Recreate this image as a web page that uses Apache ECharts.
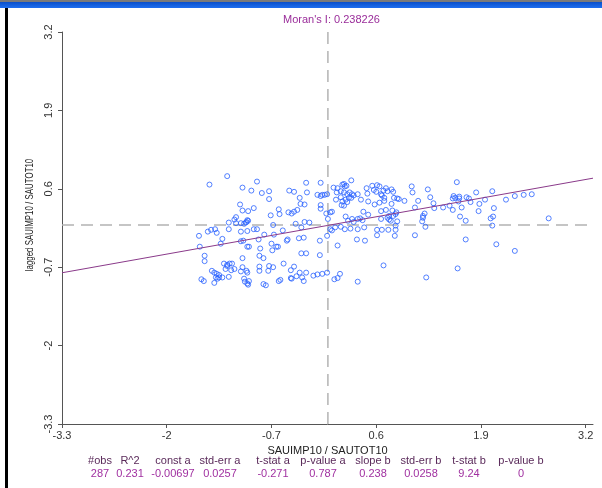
<!DOCTYPE html>
<html><head><meta charset="utf-8">
<script src="https://cdn.jsdelivr.net/npm/echarts@6/dist/echarts.min.js"></script>
<style>html,body{margin:0;padding:0;background:#fff}#c{width:602px;height:488px}</style>
</head><body><div id="c"></div>
<script>
// observations: [SAUIMP10 / SAUTOT10 (standardised), lagged value]
const observations = [
[-1.25,0.81],[-1.47,0.67],[-1.06,0.62],[-0.88,0.72],[-0.95,0.57],[-0.82,0.53],[-0.73,0.56],[-0.73,0.43],[-1.09,0.34],[-0.99,0.23],
[-1.06,0.24],[-0.92,0.28],[-1.14,0.13],[-1.16,0.09],[-1.00,0.08],[-1.23,0.04],[-1.14,0.03],[-1.08,0.03],[-1.04,0.02],[-1.02,0.04],
[-0.99,0.07],[-1.60,-0.18],[-1.49,-0.11],[-1.45,-0.08],[-1.40,-0.07],[-1.38,-0.13],[-1.23,-0.07],[-1.08,-0.11],[-1.00,-0.10],[-0.92,-0.07],
[-0.88,-0.07],[-0.68,0.00],[-0.71,0.16],[-0.61,0.26],[-0.60,0.18],[-0.56,-0.09],[-0.49,0.21],[-0.45,0.19],[-0.42,0.22],[-0.38,0.25],
[-0.50,-0.24],[-0.36,-0.22],[-0.33,-0.04],[-0.29,0.05],[-0.40,0.02],[-0.23,0.04],[-0.34,0.35],[-0.29,0.34],[-0.35,0.45],[-0.48,0.57],
[-0.42,0.55],[-0.26,0.54],[-0.27,0.70],[-0.09,0.70],[-0.13,0.50],[-0.09,0.48],[-0.04,0.50],[-0.01,0.51],[-0.09,0.33],[-0.09,0.27],
[-0.02,0.19],[0.03,0.21],[0.05,0.22],[0.00,0.10],[0.03,-0.07],[0.05,-0.09],[-0.01,-0.18],[-0.10,-0.26],[-0.10,-0.50],[0.07,0.62],
[0.12,0.61],[0.18,0.67],[0.20,0.68],[0.23,0.65],[0.29,0.74],[0.11,0.54],[0.16,0.56],[0.20,0.54],[0.24,0.51],[0.27,0.54],
[0.30,0.51],[0.32,0.49],[0.10,0.42],[0.16,0.46],[0.18,0.39],[0.22,0.42],[0.24,0.38],[0.29,0.45],[0.17,0.33],[0.20,0.32],
[0.41,0.42],[0.37,0.51],[0.48,0.61],[0.49,0.52],[0.55,0.65],[0.57,0.58],[0.64,0.64],[0.66,0.51],[0.67,0.49],[0.72,0.61],
[0.74,0.56],[0.79,0.59],[0.70,0.45],[0.82,0.45],[0.86,0.44],[0.50,0.39],[0.58,0.34],[0.64,0.37],[0.70,0.40],[0.79,0.35],
[0.44,0.22],[0.50,0.17],[0.72,0.25],[0.80,0.24],[0.84,0.18],[0.22,0.14],[0.25,0.07],[0.30,0.10],[0.37,0.10],[0.40,0.11],
[0.43,0.08],[0.32,0.05],[0.66,0.10],[0.76,0.09],[0.81,0.15],[0.78,0.07],[0.86,0.06],[0.16,-0.03],[0.21,-0.07],[0.28,-0.06],
[0.37,-0.07],[0.45,-0.04],[0.61,-0.08],[0.67,-0.08],[0.75,-0.08],[0.84,-0.08],[0.83,-0.18],[0.36,-0.24],[0.46,-0.26],[0.09,-0.04],
[-1.59,-0.36],[-1.53,-0.51],[-1.53,-0.60],[-1.31,-0.23],[-1.33,-0.31],[-1.08,-0.27],[-1.05,-0.26],[-1.00,-0.36],[-0.98,-0.36],[-0.84,-0.39],
[-0.70,-0.31],[-0.69,-0.42],[-0.64,-0.36],[-0.62,-0.36],[-0.51,-0.26],[-0.30,-0.21],[-0.33,-0.47],[-0.27,-0.47],[-0.85,-0.51],[-0.80,-0.55],
[-1.06,-0.55],[-1.29,-0.64],[-1.22,-0.64],[-1.19,-0.64],[-1.25,-0.66],[-1.16,-0.73],[-1.06,-0.70],[-1.01,-0.76],[-1.00,-0.79],[-0.85,-0.69],
[-0.85,-0.76],[-0.73,-0.68],[-0.74,-0.76],[-0.68,-0.70],[-0.55,-0.64],[-0.46,-0.75],[-0.42,-0.69],[-0.35,-0.79],[-0.27,-0.79],[-1.44,-0.76],
[-1.41,-0.79],[-1.38,-0.81],[-1.39,-0.87],[-1.35,-0.87],[-1.31,-0.87],[-1.23,-0.86],[-1.27,-0.73],[-1.57,-0.90],[-1.54,-0.93],[-1.41,-0.96],
[-1.03,-0.94],[-1.00,-0.97],[-0.98,-0.93],[-0.99,-0.99],[-0.80,-0.98],[-0.77,-1.00],[-0.61,-0.93],[-0.59,-0.91],[-0.46,-0.88],[-0.39,-0.85],
[-0.32,-0.87],[-0.30,-0.93],[-0.18,-0.84],[-0.13,-0.82],[-0.07,-0.81],[-0.01,-0.79],[0.08,-0.90],[0.12,-0.88],[0.15,-0.81],[0.37,-0.94],
[1.04,0.64],[1.05,0.54],[1.24,0.59],[1.27,0.46],[1.12,0.40],[0.95,0.40],[0.88,0.43],[1.31,0.36],[1.08,0.29],[1.32,0.28],
[1.43,0.29],[1.51,0.32],[1.55,0.25],[1.60,0.71],[1.56,0.48],[1.58,0.45],[1.63,0.44],[1.62,0.39],[1.72,0.46],[1.75,0.44],
[1.77,0.38],[1.84,0.54],[1.88,0.35],[1.87,0.23],[1.95,0.42],[2.04,0.56],[2.06,0.28],[2.21,0.42],[2.32,0.48],[2.43,0.50],
[2.53,0.51],[1.64,0.14],[1.71,0.07],[2.05,0.14],[2.02,0.11],[2.04,-0.01],[1.71,-0.24],[2.09,-0.32],[2.32,-0.43],[1.61,-0.72],
[1.22,-0.87],[2.74,0.11],[1.18,0.15],[1.18,0.12],[1.17,0.06],[1.20,0.19],[1.21,-0.03],[1.08,-0.17],[0.69,-0.67],[0.85,0.21],
[0.76,0.15],[0.74,0.12],[0.84,-0.01],[1.66,0.29],[0.66,0.23],[1.55,0.44],
[-0.86,-0.24],[-0.67,-0.16],[-0.79,-0.16],[0.12,-0.34],[0.61,-0.17],[0.61,0.66],[0.81,0.55],[0.60,0.55],[-1.08,-0.77],[-1.20,-0.75],
[-0.45,-0.89],[-1.37,-0.89],[0.21,0.64],[0.26,0.45],[0.69,0.57],[-1.04,-0.89],[-1.35,-0.83],[-1.25,-0.68],[-0.07,0.50],[1.63,0.47],
[-1.01,0.05]
];
const xTicks = [-3.3, -2, -0.7, 0.6, 1.9, 3.2];
const yTicks = [-3.3, -2, -0.7, 0.6, 1.9, 3.2];
const xRange = [-3.3, 3.29];
const yRange = [-3.3, 3.2];
const moransI = '0.238226';
const constA = -0.00697;
const slopeB = 0.238;
const xTitle = 'SAUIMP10 / SAUTOT10';
const yTitle = 'lagged SAUIMP10 / SAUTOT10';
const statNames = ['#obs','R^2','const a','std-err a','t-stat a','p-value a','slope b','std-err b','t-stat b','p-value b'];
const statValues = ['287','0.231','-0.00697','0.0257','-0.271','0.787','0.238','0.0258','9.24','0'];
const statCenters = [100, 130, 173, 220, 273, 323, 373, 421, 469, 521];

const FONT = '"Liberation Sans", Arial, sans-serif';
const fitLine = [xRange[0], xRange[1]].map(x => [x, constA + slopeB * x]);
const vMean = [[0, yRange[0]], [0, yRange[1]]];
const hMean = [[xRange[0], 0], [xRange[1], 0]];

const graphics = [
  {type:'rect', shape:{x:0,y:0,width:602,height:2}, style:{fill:'#7a7a7a'}, silent:true},
  {type:'rect', shape:{x:0,y:2,width:602,height:6}, style:{fill:{type:'linear',x:0,y:0,x2:0,y2:1,colorStops:[{offset:0,color:'#0a4fc9'},{offset:1,color:'#1f6ff0'}]}}, silent:true},
  {type:'rect', shape:{x:5,y:8,width:3,height:480}, style:{fill:'#000'}, silent:true},
  {type:'text', x:30, y:215, rotation:Math.PI/2, scaleX:0.72, style:{text:yTitle, fill:'#222', font:'11px ' + FONT, textAlign:'center', textVerticalAlign:'middle'}, silent:true}
];
statNames.forEach((n, i) => {
  graphics.push({type:'text', x:statCenters[i], y:461, style:{text:n, fill:'#5a2a5a', font:'11px ' + FONT, textAlign:'center', textVerticalAlign:'middle'}, silent:true});
  graphics.push({type:'text', x:statCenters[i], y:474, style:{text:statValues[i], fill:'#a030a0', font:'11px ' + FONT, textAlign:'center', textVerticalAlign:'middle'}, silent:true});
});

const dash = {color:'#b3b3b3', type:[12,7], width:1.5};
const chart = echarts.init(document.getElementById('c'), null, {renderer:'canvas'});
chart.setOption({
  animation:false,
  backgroundColor:'#fff',
  textStyle:{fontFamily:FONT},
  title:{text:"Moran's I: " + moransI, left:278, top:9, textStyle:{fontSize:11, fontWeight:'normal', color:'#9a2d9a', fontFamily:FONT}},
  grid:{left:62, right:9, top:32, bottom:64},
  xAxis:{type:'value', min:xRange[0], max:xRange[1],
    name:xTitle, nameLocation:'middle', nameGap:17,
    nameTextStyle:{fontSize:11, color:'#222', fontFamily:FONT},
    axisLine:{onZero:false, lineStyle:{color:'#555', width:1}},
    axisTick:{show:true, length:4, lineStyle:{color:'#555'}, customValues:xTicks},
    axisLabel:{customValues:xTicks, fontSize:11, color:'#333', margin:6, fontFamily:FONT},
    splitLine:{show:false}},
  yAxis:{type:'value', min:yRange[0], max:yRange[1],
    axisLine:{onZero:false, lineStyle:{color:'#555', width:1}},
    axisTick:{show:true, length:4, lineStyle:{color:'#555'}, customValues:yTicks},
    axisLabel:{customValues:yTicks, rotate:90, fontSize:11, color:'#333', margin:8, fontFamily:FONT},
    splitLine:{show:false}},
  series:[
    {type:'line', data:vMean, symbol:'none', lineStyle:dash, silent:true, z:1},
    {type:'line', data:hMean, symbol:'none', lineStyle:dash, silent:true, z:1},
    {type:'scatter', data:observations, symbol:'circle', symbolSize:5,
     itemStyle:{color:'rgba(0,0,0,0)', borderColor:'#2962ff', borderWidth:1}, z:3},
    {type:'line', data:fitLine, symbol:'none', lineStyle:{color:'#8a3a8a', width:1}, silent:true, z:4}
  ],
  graphic:graphics
});
</script></body></html>
